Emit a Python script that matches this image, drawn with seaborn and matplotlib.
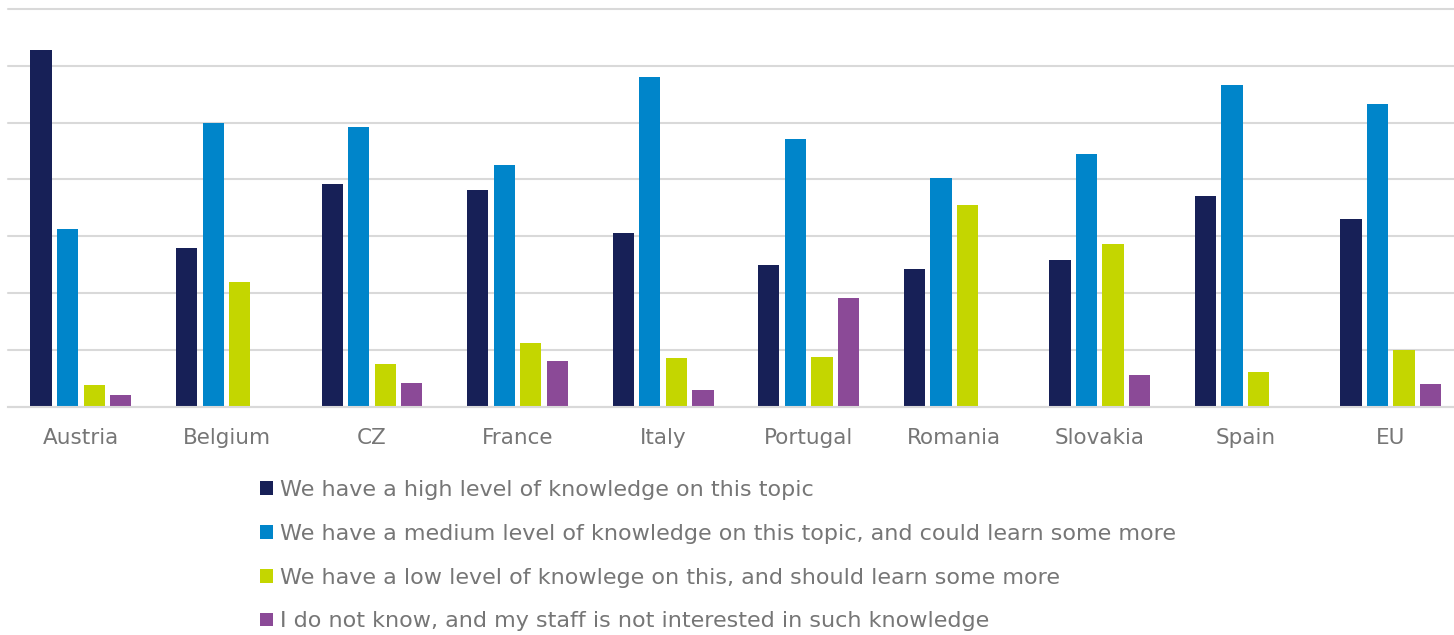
import matplotlib
matplotlib.use("Agg")
import matplotlib.pyplot as plt
from matplotlib.patches import Patch
import seaborn as sns
import pandas as pd

countries = ["Austria", "Belgium", "CZ", "France", "Italy", "Portugal",
             "Romania", "Slovakia", "Spain", "EU"]
series_names = [
    "We have a high level of knowledge on this topic",
    "We have a medium level of knowledge on this topic, and could learn some more",
    "We have a low level of knowlege on this, and should learn some more",
    "I do not know, and my staff is not interested in such knowledge",
]
high = [62.7, 28.0, 39.2, 38.1, 30.5, 25.0, 24.2, 25.9, 37.1, 33.1]
medium = [31.3, 50.0, 49.2, 42.6, 58.0, 47.1, 40.2, 44.4, 56.6, 53.2]
low = [3.9, 22.0, 7.5, 11.2, 8.5, 8.7, 35.5, 28.6, 6.1, 10.0]
unknown = [2.0, 0.0, 4.2, 8.1, 2.9, 19.1, 0.0, 5.6, 0.0, 4.0]
colors = ["#172057", "#0085CA", "#C4D600", "#8B4A97"]

rows = []
for name, vals in zip(series_names, [high, medium, low, unknown]):
    for c, v in zip(countries, vals):
        rows.append({"country": c, "answer": name, "value": v})
df = pd.DataFrame(rows)

sns.set_theme(style="white")
plt.rcParams["font.family"] = ["DejaVu Sans"]
text_color = "#767676"

fig = plt.figure(figsize=(14.54, 6.35), dpi=100)
ax = fig.add_axes([0.0056, 0.3595, 1.001, 0.6263])

sns.barplot(data=df, x="country", y="value", hue="answer",
            hue_order=series_names, order=countries, palette=colors,
            saturation=1, width=0.73, gap=0.2, linewidth=0, ax=ax,
            legend=False)

ax.set_ylim(0, 70)
ax.set_yticks(range(0, 71, 10))
ax.yaxis.grid(True, color="#d9d9d9", linewidth=1.5)
for gl in ax.get_ygridlines():
    gl.set_clip_on(False)
ax.set_axisbelow(True)
ax.tick_params(axis="y", left=False, labelleft=False)
ax.tick_params(axis="x", bottom=False, labelsize=15.5, labelcolor=text_color, pad=9)
ax.set_xlabel("")
ax.set_ylabel("")
for side in ["top", "right", "left"]:
    ax.spines[side].set_visible(False)
ax.spines["bottom"].set_color("#d9d9d9")
ax.spines["bottom"].set_linewidth(1.5)

handles = [Patch(facecolor=c, edgecolor="none") for c in colors]
fig.legend(handles, series_names, loc="upper left",
           bbox_to_anchor=(0.1788, 0.2441), frameon=False,
           fontsize=16, labelcolor=text_color, handlelength=0.585,
           handleheight=0.585, handletextpad=0.3, labelspacing=1.07,
           borderaxespad=0, borderpad=0)

fig.savefig("out.png", dpi=100)
